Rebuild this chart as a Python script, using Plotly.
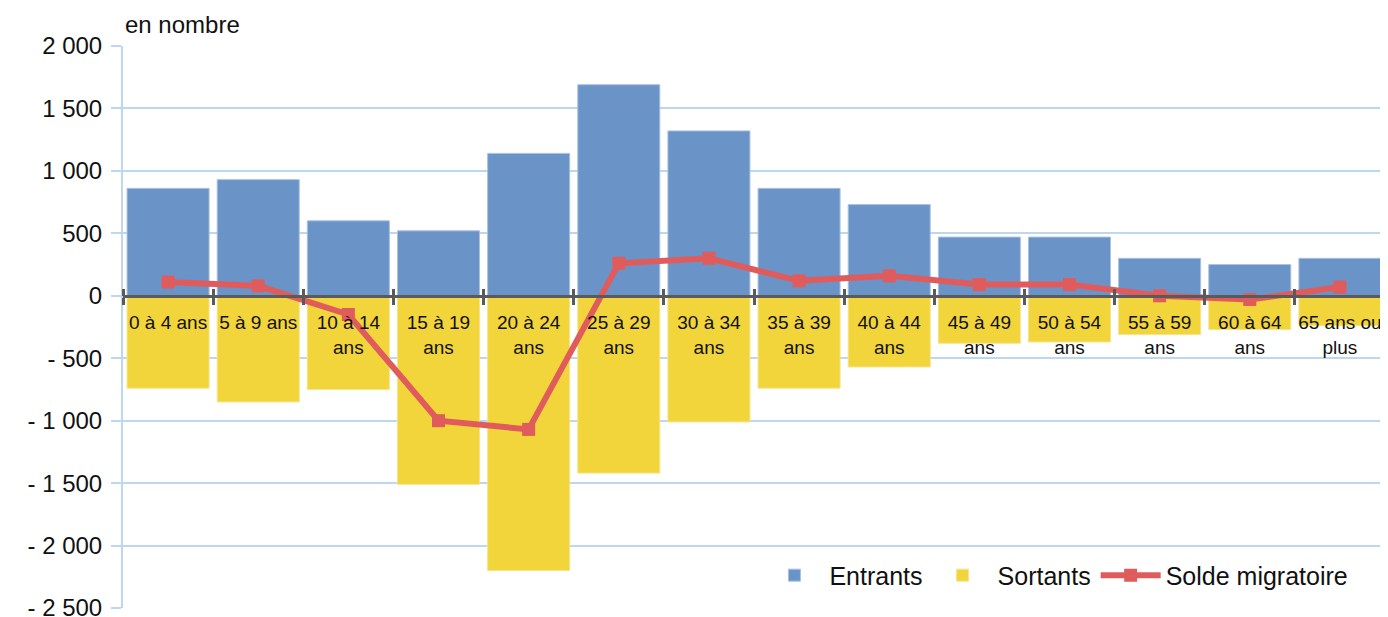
import plotly.graph_objects as go

categories = ["0 à 4 ans", "5 à 9 ans", "10 à 14<br>ans", "15 à 19<br>ans", "20 à 24<br>ans",
              "25 à 29<br>ans", "30 à 34<br>ans", "35 à 39<br>ans", "40 à 44<br>ans",
              "45 à 49<br>ans", "50 à 54<br>ans", "55 à 59<br>ans", "60 à 64<br>ans",
              "65 ans ou<br>plus"]
entrants = [860, 930, 600, 520, 1140, 1690, 1320, 860, 730, 470, 470, 300, 250, 300]
sortants = [-740, -850, -750, -1510, -2200, -1420, -1010, -740, -570, -380, -370, -310, -270, -240]
solde = [110, 80, -150, -1000, -1070, 260, 300, 120, 160, 90, 90, 0, -30, 70]

ytick_vals = [-2500, -2000, -1500, -1000, -500, 0, 500, 1000, 1500, 2000]
ytick_text = ["- 2 500", "- 2 000", "- 1 500", "- 1 000", "- 500", "0", "500", "1 000", "1 500", "2 000"]

FONT = "Liberation Sans, Arial, sans-serif"
BLUE = "#6A93C7"
YELLOW = "#F2D43B"
RED = "#E05C5C"
GRID = "#BDD7EE"
AXIS = "#5A5A5A"

zero_pos = 2500 / 4500

fig = go.Figure()
fig.add_trace(go.Bar(x=categories, y=entrants, name="Entrants", marker=dict(color=BLUE, line=dict(color="#A9C1E0", width=1))))
fig.add_trace(go.Bar(x=categories, y=sortants, name="Sortants", marker=dict(color=YELLOW, line=dict(color="#F7E48A", width=1))))
fig.add_trace(go.Scatter(x=categories, y=solde, name="Solde migratoire", mode="lines+markers",
                         line=dict(color=RED, width=6), marker=dict(symbol="square", size=13, color=RED)))
# helper trace for the upward tick marks of the zero axis
fig.add_trace(go.Scatter(x=categories, y=[None] * len(categories), xaxis="x2", showlegend=False,
                         hoverinfo="skip", mode="lines"))

fig.update_layout(
    width=1380, height=609,
    margin=dict(l=115, r=3, t=38, b=9, autoexpand=False),
    paper_bgcolor="white", plot_bgcolor="white",
    barmode="relative", bargap=0.09,
    font=dict(family=FONT, color="#111111"),
    showlegend=True,
    legend=dict(orientation="h", x=0.975, xanchor="right", y=0.058, yanchor="middle",
                bgcolor="rgba(255,255,255,0)", font=dict(size=25, family=FONT), itemwidth=60,
                traceorder="normal"),
    xaxis=dict(type="category", range=[-0.5, 13.5], anchor="free", position=zero_pos,
               showline=True, linecolor=AXIS, linewidth=2.5, showgrid=False,
               ticks="outside", tickson="boundaries", ticklen=7, tickwidth=2.5, tickcolor=AXIS,
               tickfont=dict(size=19, family=FONT, color="#111111"), ticklabelstandoff=9,
               tickangle=0, zeroline=False, automargin=False),
    xaxis2=dict(type="category", overlaying="x", range=[-0.5, 13.5], anchor="free", position=zero_pos,
                side="top", showline=False, showgrid=False, ticks="outside", tickson="boundaries",
                ticklen=7, tickwidth=2.5, tickcolor=AXIS, showticklabels=False, zeroline=False,
                automargin=False),
    yaxis=dict(range=[-2500, 2000], tickvals=ytick_vals, ticktext=ytick_text,
               showgrid=True, gridcolor=GRID, gridwidth=2, zeroline=False,
               showline=True, linecolor=GRID, linewidth=2,
               ticks="outside", ticklen=10, tickwidth=2, tickcolor=GRID,
               tickfont=dict(size=24, family=FONT, color="#111111"), ticklabelstandoff=4,
               ticklabeloverflow="allow", automargin=False),
    annotations=[dict(text="en nombre", xref="paper", yref="paper", x=0.0, y=1.0,
                      xanchor="left", yanchor="bottom", yshift=6, xshift=0, showarrow=False,
                      font=dict(size=24, family=FONT, color="#111111"))],
)

fig.write_html("out.html")
